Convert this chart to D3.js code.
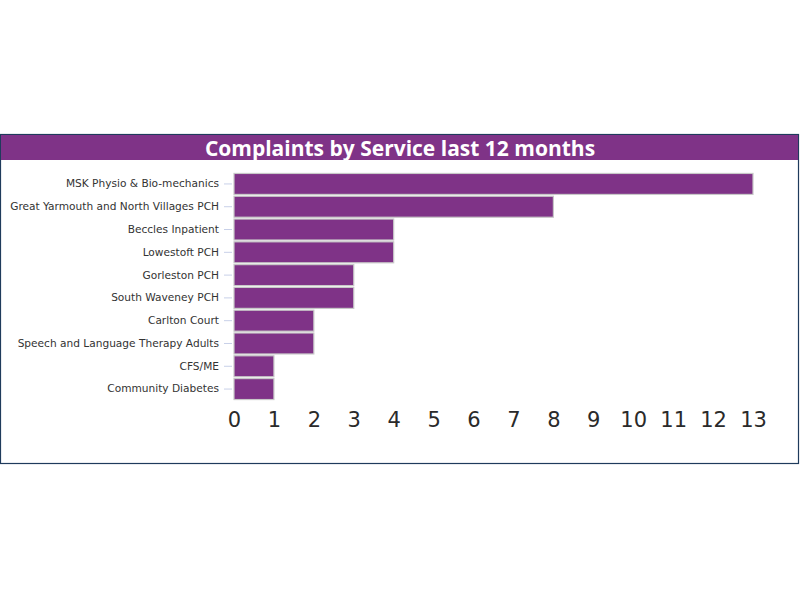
<!DOCTYPE html>
<html>
<head>
<meta charset="utf-8">
<script src="https://cdn.jsdelivr.net/npm/d3@7"></script>
<style>
  body { margin: 0; background: #fff; }
  svg { display: block; }
</style>
</head>
<body>
<div id="chart"></div>
<script>
// Chart data
const services = [
    'MSK Physio & Bio-mechanics',
    'Great Yarmouth and North Villages PCH',
    'Beccles Inpatient',
    'Lowestoft PCH',
    'Gorleston PCH',
    'South Waveney PCH',
    'Carlton Court',
    'Speech and Language Therapy Adults',
    'CFS/ME',
    'Community Diabetes'
];
const complaints = [13, 8, 4, 4, 3, 3, 2, 2, 1, 1];
const xTicks = [0, 1, 2, 3, 4, 5, 6, 7, 8, 9, 10, 11, 12, 13];

const width = 800, height = 600;
const purple = '#7f3387';

const svg = d3.select('#chart')
    .append('svg')
    .attr('width', width)
    .attr('height', height);

// Panel frame
svg.append('rect')
    .attr('x', 0.5).attr('y', 134.5)
    .attr('width', 798).attr('height', 329)
    .attr('fill', '#fff')
    .attr('stroke', '#1f3b5c')
    .attr('stroke-width', 1.2);

// Title bar
svg.append('rect')
    .attr('x', 1).attr('y', 135)
    .attr('width', 797).attr('height', 25)
    .attr('fill', purple);

svg.append('text')
    .attr('x', 400)
    .attr('y', 155.5)
    .attr('text-anchor', 'middle')
    .attr('fill', '#fff')
    .style('font-family', '"Open Sans", sans-serif')
    .style('font-weight', 'bold')
    .style('font-size', '21px')
    .text('Complaints by Service last 12 months');

// Scales
const x = d3.scaleLinear().domain([0, 13]).range([234, 753]);
const y = d3.scaleBand().domain(services).range([173, 400]).paddingInner(0.08).paddingOuter(0.02);

// Y axis
const yAxis = svg.append('g')
    .attr('transform', 'translate(232,0)')
    .call(d3.axisLeft(y).tickSize(8).tickPadding(5));
yAxis.select('.domain').remove();
yAxis.selectAll('.tick line').attr('stroke', '#c8d0e8');
yAxis.selectAll('.tick text')
    .attr('fill', '#333')
    .style('font-family', '"DejaVu Sans", Verdana, sans-serif')
    .style('font-size', '10.6px');

// Bars
svg.selectAll('.bar')
    .data(services)
    .enter()
    .append('rect')
    .attr('class', 'bar')
    .attr('x', x(0))
    .attr('y', d => y(d))
    .attr('width', (d, i) => x(complaints[i]) - x(0))
    .attr('height', y.bandwidth())
    .attr('fill', purple)
    .attr('stroke', '#c8c8c8')
    .attr('stroke-width', 1.2);

// X axis
const xAxis = svg.append('g')
    .attr('transform', 'translate(0,402)')
    .call(d3.axisBottom(x).tickValues(xTicks).tickSize(0).tickPadding(10));
xAxis.select('.domain').remove();
xAxis.selectAll('.tick text')
    .attr('fill', '#2a2a2a')
    .style('font-family', '"DejaVu Sans", Verdana, sans-serif')
    .style('font-size', '21px');
</script>
</body>
</html>
